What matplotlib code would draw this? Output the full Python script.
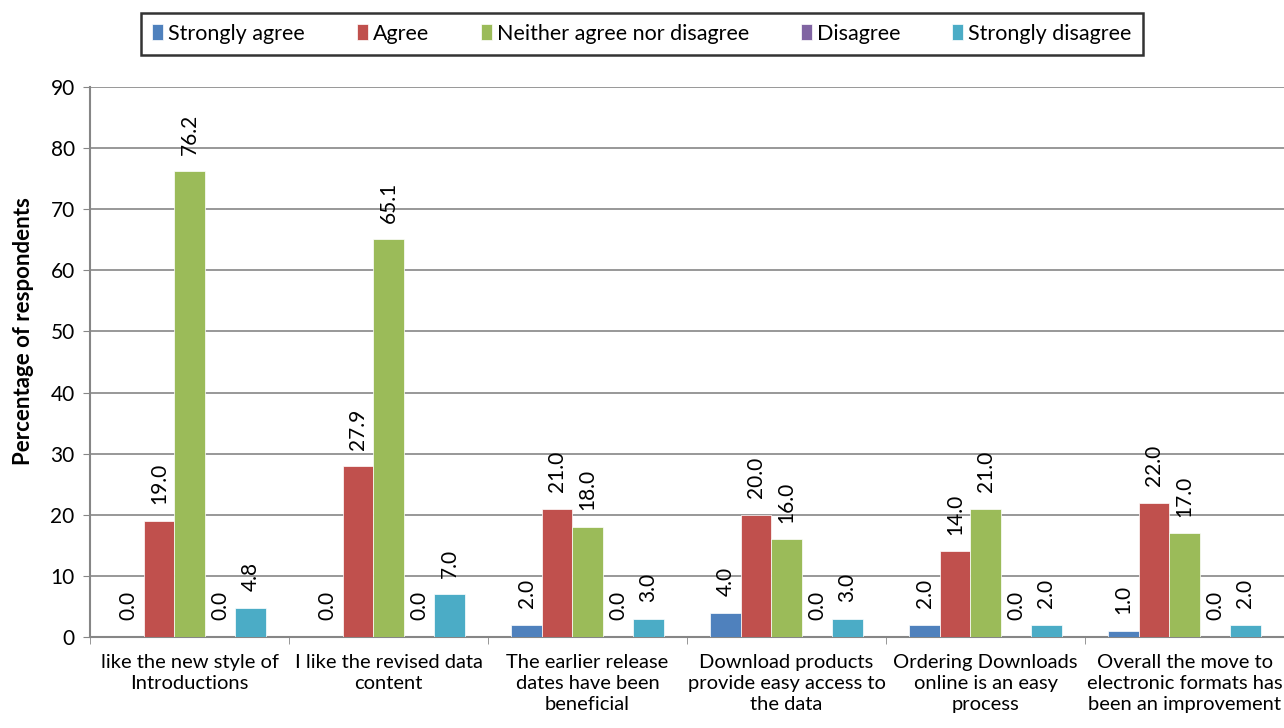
import numpy as np
import matplotlib
matplotlib.use("Agg")
import matplotlib.pyplot as plt

plt.rcParams['font.family'] = ['Lato', 'DejaVu Sans']

categories = ["like the new style of\nIntroductions",
              "I like the revised data\ncontent",
              "The earlier release\ndates have been\nbeneficial",
              "Download products\nprovide easy access to\nthe data",
              "Ordering Downloads\nonline is an easy\nprocess",
              "Overall the move to\nelectronic formats has\nbeen an improvement"]
series_names = ["Strongly agree", "Agree", "Neither agree nor disagree",
                "Disagree", "Strongly disagree"]
strongly_agree = [0.0, 0.0, 2.0, 4.0, 2.0, 1.0]
agree = [19.0, 27.9, 21.0, 20.0, 14.0, 22.0]
neither = [76.2, 65.1, 18.0, 16.0, 21.0, 17.0]
disagree = [0.0, 0.0, 0.0, 0.0, 0.0, 0.0]
strongly_disagree = [4.8, 7.0, 3.0, 3.0, 2.0, 2.0]
colors = ["#4F81BD", "#C0504D", "#9BBB59", "#8064A2", "#4BACC6"]

all_series = [strongly_agree, agree, neither, disagree, strongly_disagree]

fig = plt.figure(figsize=(12.84, 7.28), dpi=100)
ax = fig.add_axes([0.0701, 0.125, 0.9299, 0.7555])

x = np.arange(len(categories))
w = 0.153
for i, (vals, name, c) in enumerate(zip(all_series, series_names, colors)):
    pos = x + (i - 2) * w
    ax.bar(pos, vals, width=w, color=c, label=name, zorder=3,
           edgecolor='white', linewidth=0.5)
    for p, v in zip(pos, vals):
        ax.text(p, v + 2.7, f"{v:.1f}", rotation=90, ha='center', va='bottom',
                fontsize=15, color='black', zorder=4)

ax.set_xlim(-0.5, len(categories) - 0.5)
ax.set_ylim(0, 90)
ax.set_yticks(range(0, 91, 10))
ax.yaxis.grid(True, color='#868686', linewidth=1.2, zorder=0)
ax.set_axisbelow(True)
ax.set_xticks(x)
ax.set_xticklabels(categories, fontsize=14.5, linespacing=1.3)
ax.set_xticks(np.arange(-0.5, len(categories), 1), minor=True)
ax.tick_params(axis='x', which='major', length=0, pad=12)
ax.tick_params(axis='x', which='minor', length=5, color='#868686')
ax.tick_params(axis='y', labelsize=15, length=5, color='#868686', pad=6)
for s in ['top', 'right']:
    ax.spines[s].set_visible(False)
for s in ['left', 'bottom']:
    ax.spines[s].set_color('#868686')
    ax.spines[s].set_linewidth(1.5)
ax.set_ylabel("Percentage of respondents", fontsize=16, fontweight='bold')
ax.yaxis.set_label_coords(-0.047, 0.556)

leg = fig.legend(loc='upper center', bbox_to_anchor=(0.5, 0.982), ncol=5,
                 fontsize=15.5, frameon=True, fancybox=False, handlelength=0.5,
                 handleheight=0.75, handletextpad=0.25, columnspacing=2.4,
                 borderpad=0.5, borderaxespad=0)
leg.get_frame().set_edgecolor('black')
leg.get_frame().set_linewidth(1.8)

fig.savefig("out.png", dpi=100)
